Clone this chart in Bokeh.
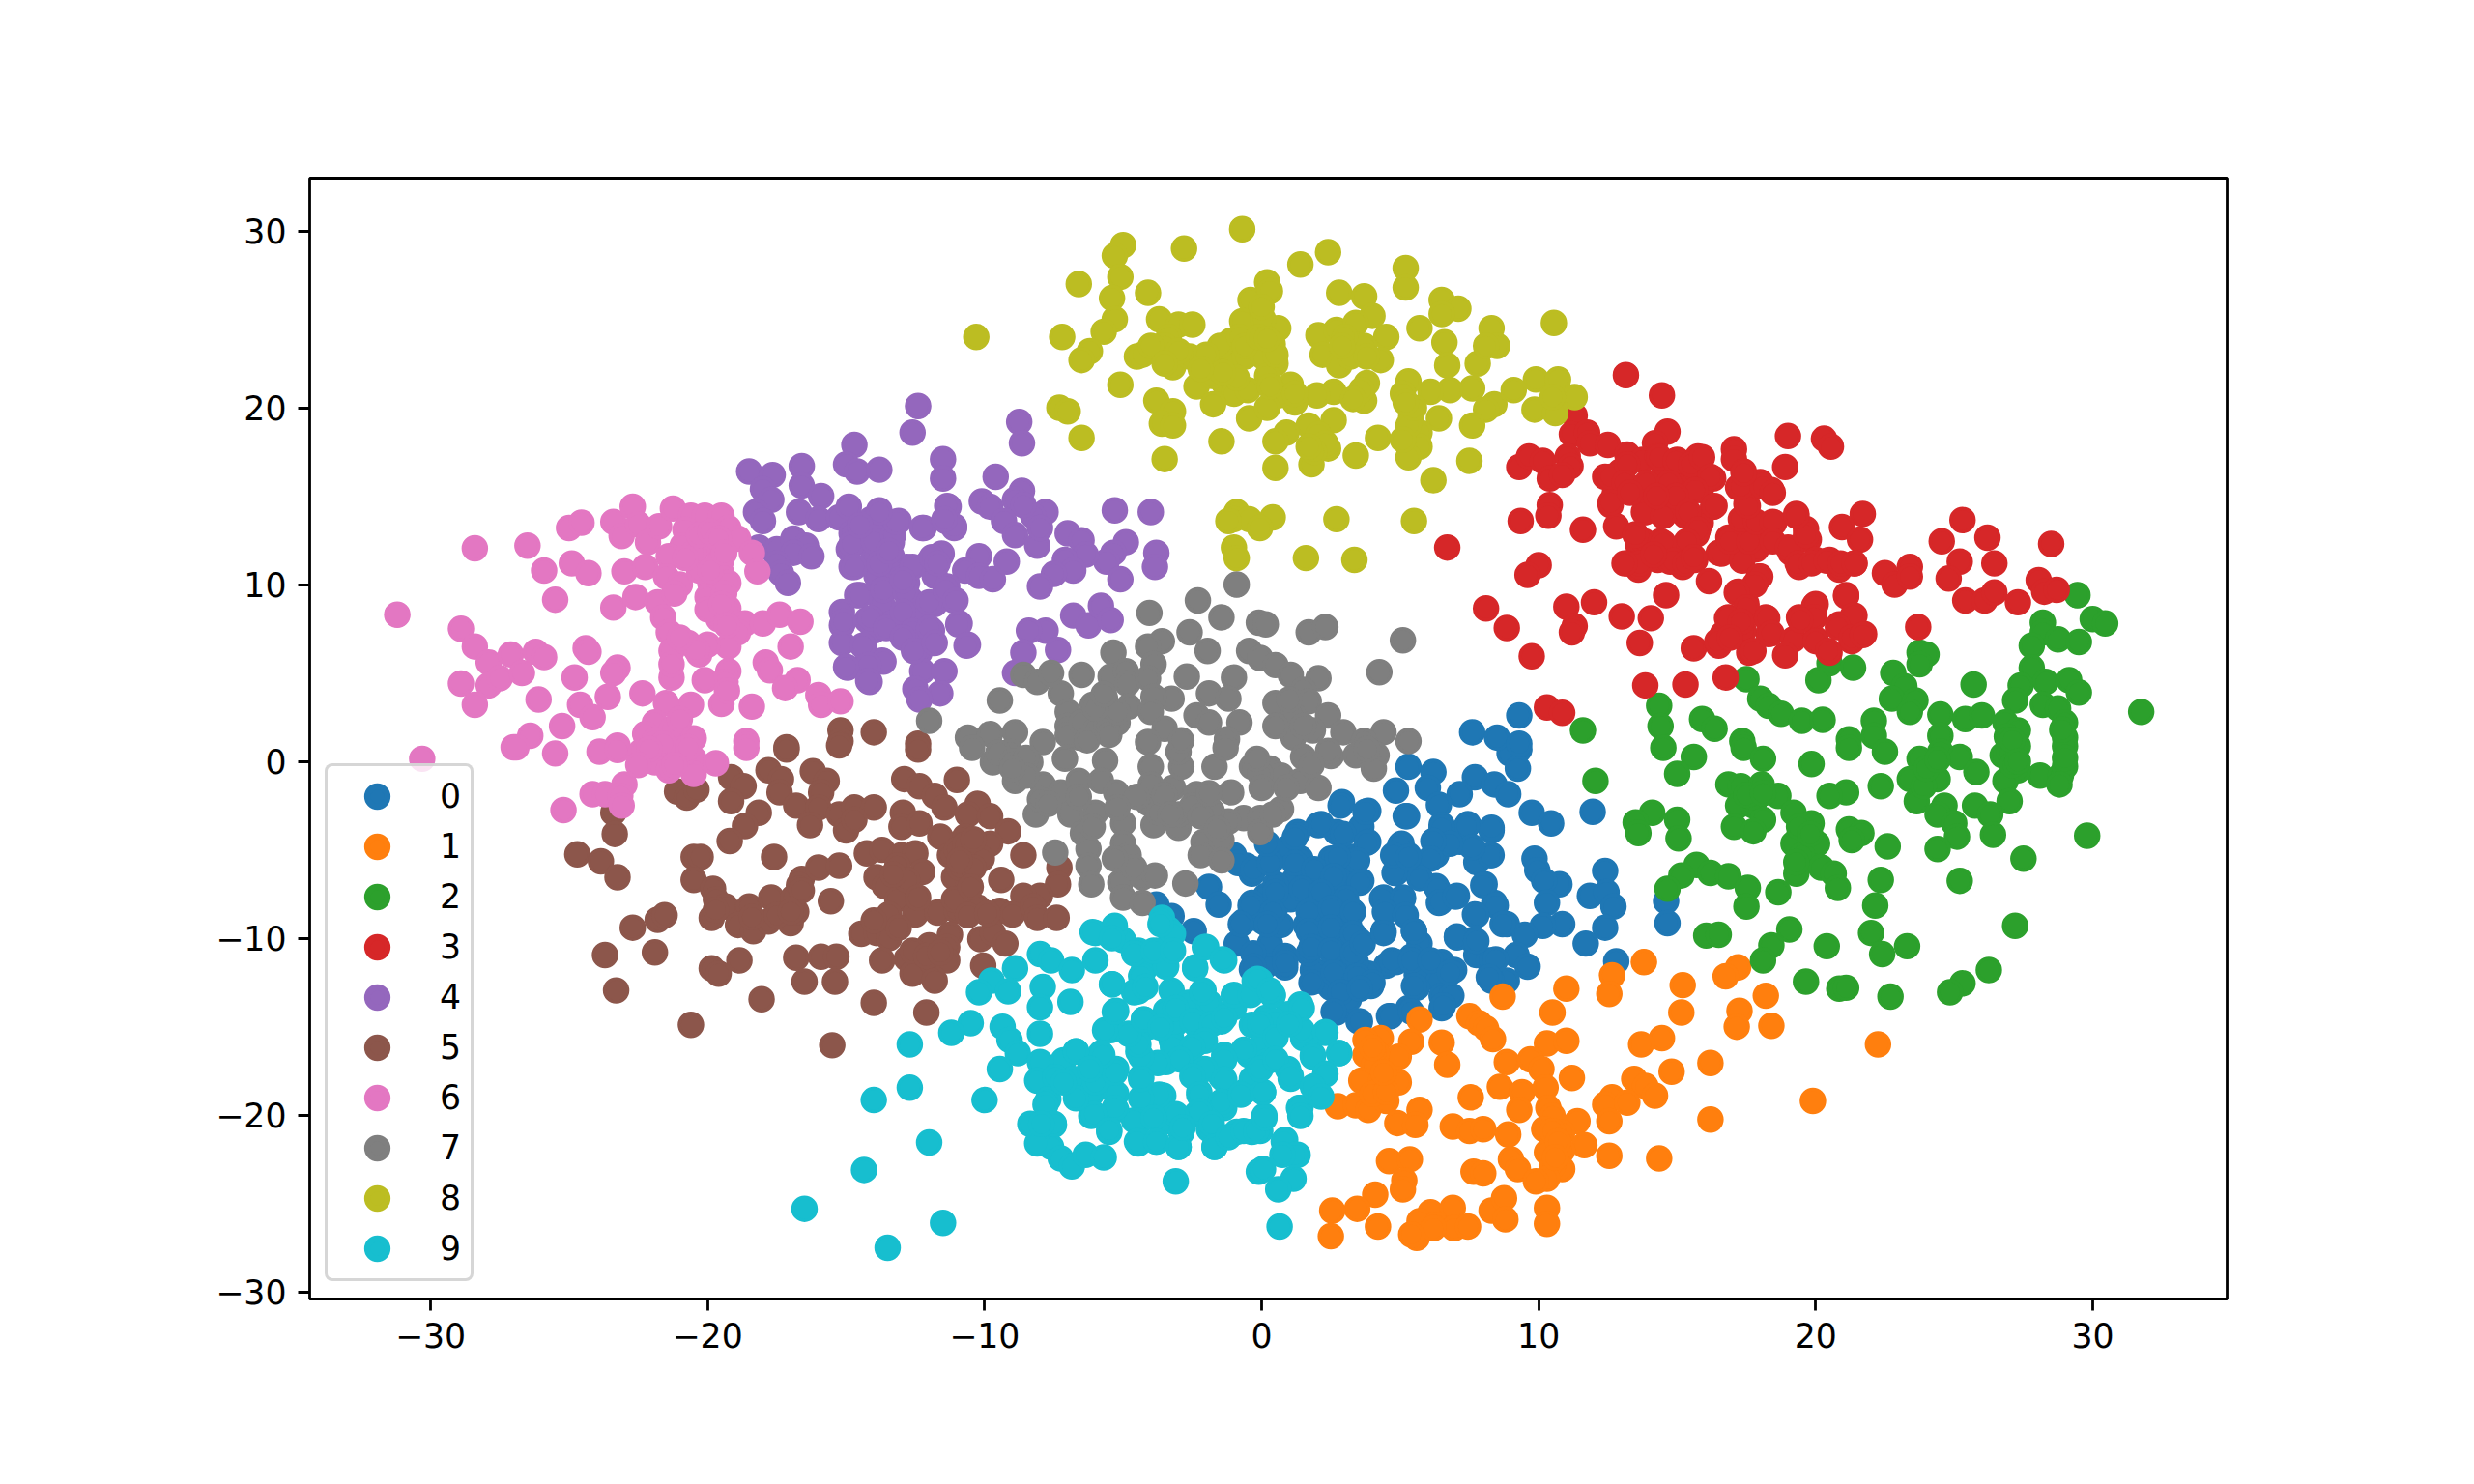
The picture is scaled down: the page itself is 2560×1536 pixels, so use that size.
from bokeh.plotting import figure
from bokeh.models import Range1d, Legend, LegendItem, FixedTicker, ColumnDataSource
from bokeh.embed import file_html
from bokeh.resources import INLINE

labels = ["0", "1", "2", "3", "4", "5", "6", "7", "8", "9"]
colors = ["#1f77b4", "#ff7f0e", "#2ca02c", "#d62728", "#9467bd", "#8c564b", "#e377c2", "#7f7f7f", "#bcbd22", "#17becf"]
x_ticks = [-30, -20, -10, 0, 10, 20, 30]
y_ticks = [-30, -20, -10, 0, 10, 20, 30]

cluster_0 = [(9.3,0.67),(8.95,0.45),(9.25,-0.4),(5.3,-0.3),(6.2,-0.6),(7.7,-0.9),(8.4,-1.3),(8.9,-1.85),(4.85,-1.65),(6.0,-1.5),(7.15,-1.85),(6.4,-2.45),(2.9,-2.3),(3.85,-2.8),(5.2,-3.1),(9.75,-2.9),(10.45,-3.5),(11.95,-2.85),(6.5,-3.6),(7.45,-3.55),(8.3,-3.9),(2.05,-3.6),(1.3,-4),(2.7,-4),(3.6,-3.7),(3.85,-4.55),(5.05,-4.65),(4.85,-5.2),(6.3,-4.55),(7.15,-4.55),(8.3,-5.3),(7.75,-5.7),(9.85,-5.5),(9.95,-6.15),(12.4,-6.2),(5.3,-5.3),(6.3,-5.3),(4.85,-6.3),(5.7,-6.55),(8.05,-6.95),(10.75,-6.95),(10.2,-6.75),(6.3,-7.05),(7.05,-7.6),(6.4,-8),(10.3,-8),(11.85,-7.6),(12.45,-7.4),(12.7,-8.2),(8.4,-8),(7.7,-8.65),(8.85,-9.2),(12.4,-9.4),(10.85,-9.2),(10.15,-9.3),(9.5,-9.8),(11.7,-10.3),(14.6,-7.9),(14.65,-9.15),(4.4,-7.7),(5.1,-7.7),(4.4,-9.6),(5.5,-9.6),(5.7,-10.3),(7.05,-9.9),(7.6,-10.1),(7.75,-10.95),(8.2,-11.25),(9.2,-10.95),(9.6,-11.6),(8.85,-12.4),(8.3,-12.4),(12.8,-11.3),(6.5,-11.35),(5.6,-12.1),(6.4,-12.4),(6.95,-11.8),(4.85,-11.35),(4.5,-11.55),(5.4,-11.05),(5.6,-12.8),(6.5,-13.25),(6.85,-13.25),(6.5,-13.95),(5.3,-13.95),(4.6,-14.4),(3.5,-14.7),(2.7,-14.2),(3.15,-13.45),(3.95,-12.7),(3.85,-12),(2.05,-12.4),(2.5,-12.8),(3.15,-12),(1.85,-11.8),(0.85,-11.65),(0.15,-11.55),(0.3,-10.3),(0.85,-11),(1.7,-10.85),(2.6,-10.95),(3.4,-11.35),(2.95,-10.1),(2.05,-10.1),(3.5,-10.1),(0.7,-9.25),(1.6,-9.25),(2.4,-9.25),(3.15,-9.25),(0.05,-9.05),(1.85,-8.45),(2.7,-8.25),(3.25,-8.45),(0.5,-8.25),(1.05,-7.8),(0.15,-7.6),(2.05,-7.4),(2.95,-7.4),(3.6,-6.75),(1.15,-6.75),(0.5,-6.95),(2.05,-6.3),(2.85,-6.45),(0.3,-5.7),(1.4,-5.5),(2.5,-5.5),(3.3,-5.4),(0.95,-4.9),(-3.8,-8.1),(-3.25,-8.75),(-2.45,-9.6),(-1.9,-7.1),(-1.55,-8.1),(-0.55,-5.9),(-0.35,-8),(-0.65,-9.05),(-0.9,-10.3),(-0.35,-11.75),(-1,-5.3),(-0.35,-6.35),(9.3,2.6),(7.6,1.65),(8.5,1.35),(9.3,1),
(1.2,-4.3),(2.15,-3.55),(2.95,-4.1),(3.8,-4.6),(3.45,-5.6),(2.75,-5.4),(1.2,-5.75),(1.9,-6.1),(2.6,-6.5),(3.55,-6.85),(0.5,-7.4),(1.45,-7.2),(2.15,-7.4),(3.05,-7.75),(-0.4,-8.15),(0.4,-8.5),(1.7,-8.5),(2.5,-8.3),(3.3,-8.5),(-0.75,-9.2),(0.2,-9.2),(1.7,-9.6),(2.5,-9.4),(3.3,-9.75),(-0.3,-10.85),(0.85,-11.4),(1.8,-10.5),(2.5,-10.7),(3.3,-10.85),(3.65,-10.3),(-0.3,-11.6),(1.8,-12.5),(2.6,-11.95),(3.45,-12.15),(4,-12.5),(2.85,-13.05),(3.55,-12.85),(2.6,-14.15),(3.55,-14.7),(4.7,-11.25),(5.4,-11.25),(6.1,-11.25),(6.8,-11.95),(5.5,-12.7),(6.55,-13.8),(4.65,-14.4),(5.4,-14.15),(-0.85,-5.75),(-0.3,-6.1),(0.3,-5.75),(0.2,-4.65),(3.75,-2.85),(2.85,-2.5),(4.35,-7.75),(5.1,-7.75),(4.45,-8.5),(5.2,-8.7),(5.5,-9.6),(4.4,-9.7),(8.3,-3.75),(7.4,-3.65),(6.5,-3.75),(5.25,-3.1),(8.25,-5.3),(7.6,-4.85),(6.8,-4.65),(6.2,-4.5),(6.1,-5.5),(5.7,-6.6),(6.35,-7.2),(6.45,-7.95),(7,-7.65),(8,-7),(8.45,-8.15),(7.75,-8.7),(8.7,-9.2),(7.05,-9.95),(7.75,-10.15),(8.45,-11.2),(8.2,-12.2),(4.8,-6.3),(5,-4.75),(4.75,-5.3),(5.3,-5.4)]

cluster_1 = [(13.8,-11.35),(12.65,-12.1),(12.55,-13.15),(11,-12.85),(15.2,-12.65),(17.2,-11.65),(16.75,-12.15),(18.2,-13.25),(8.7,-13.3),(10.5,-14.2),(15.15,-14.2),(17.25,-14.1),(17.15,-15),(18.4,-14.95),(7.5,-14.4),(7.85,-14.8),(8.1,-15.1),(8.35,-15.7),(5.7,-14.6),(5.4,-15.85),(4.3,-15.65),(3.75,-15.75),(6.5,-15.9),(6.7,-17.15),(4.95,-16.7),(4.15,-16.5),(3.75,-16.6),(4.05,-17.2),(10.3,-15.95),(11,-15.8),(14.45,-15.65),(13.7,-16),(22.25,-16),(8.85,-17),(9.7,-16.85),(10.1,-17.4),(16.2,-17.05),(14.8,-17.55),(13.45,-17.95),(13.85,-18.35),(14.2,-18.9),(11.2,-17.9),(3.6,-18.05),(4.95,-18.15),(4.3,-18.15),(8.6,-18.4),(9.4,-18.7),(10.25,-18.45),(7.55,-19),(19.9,-19.2),(12.65,-19),(12.4,-19.4),(13.2,-19.3),(2.75,-19.5),(3.4,-19.45),(3.85,-19.7),(4.5,-19.2),(9.3,-19.7),(5.7,-19.7),(10.35,-19.6),(4.9,-20.45),(5.55,-20.55),(16.2,-20.25),(12.55,-20.35),(11.4,-20.35),(10.5,-20.05),(6.9,-20.65),(7.5,-20.9),(8,-20.8),(8.9,-21.1),(10.2,-20.8),(10.85,-21),(11.65,-21.7),(10.3,-22.1),(10.85,-22),(12.55,-22.3),(14.35,-22.45),(4.6,-22.6),(5.35,-22.5),(9,-22.5),(9.25,-23.05),(7.65,-23.2),(8,-23.3),(10.85,-23.05),(10.5,-22.9),(5.15,-23.7),(5.1,-24.2),(10.3,-23.6),(9.9,-23.75),(4.1,-24.5),(3.45,-25.3),(2.55,-25.4),(2.5,-26.85),(4.2,-26.3),(6.1,-25.5),(6.9,-25.25),(5.7,-26),(6.3,-26.2),(5.6,-26.95),(6.95,-26.4),(7.45,-26.3),(8.3,-25.4),(8.75,-24.7),(8.8,-25.9),(10.3,-25.25),(10.3,-26.15),(6.2,-26.4),(5.4,-26.75),
(10.5,-20.9),(10.7,-21.5),(10.6,-22.4),(4,-18.8),(4.5,-18.7),(4,-16.2),(4.4,-17.6)]

cluster_2 = [(29.45,9.4),(30,8.05),(30.45,7.8),(28.2,7.85),(28.2,7.3),(28.75,6.9),(29.5,6.75),(27.8,6.55),(27.8,5.3),(23.75,6.15),(24,6.05),(23.75,5.5),(20.5,5.55),(21.35,5.3),(20.1,4.6),(17.5,4.65),(22.8,5),(23.2,4.25),(22.75,3.55),(25.7,4.35),(23.6,3.45),(23.4,2.8),(24.5,2.65),(25.4,2.4),(26,2.6),(27.4,4.3),(28.3,4.5),(29.15,4.6),(29.5,3.9),(27.2,3.45),(28.2,3.2),(28.75,3),(29,2.2),(31.75,2.8),(26.85,2.2),(27.3,1.75),(29,1.35),(14.35,3.15),(14.4,2),(18,3.55),(18.3,3.15),(18.75,2.7),(19.5,2.3),(20.25,2.35),(15.9,2.4),(16.35,1.85),(22.1,2.3),(11.6,1.75),(17.35,1.15),(21.2,1.25),(24.5,1.45),(22.1,1.45),(14.5,0.77),(15.6,0.25),(15,-0.7),(12.05,-1.1),(17.4,0.77),(18.1,0.15),(19.85,-0.15),(21.2,0.77),(22.5,0.55),(23.75,0.15),(24.5,0.55),(25.2,0.25),(26.75,0.35),(27.3,0.87),(29,0.87),(24.2,-0.8),(23.4,-1),(24.4,-1),(25.8,-0.6),(28.1,-0.8),(28.85,-0.8),(29,-0.28),(27.3,-0.5),(26.85,-1.1),(27,-2.25),(23.65,-2.25),(25.75,-2.5),(26.3,-3),(24.65,-2.5),(24.4,-3),(25,-3.5),(26.4,-4.15),(25.1,-4.25),(24.4,-4.95),(27.5,-5.5),(29.8,-4.2),(22.35,-1.4),(21.1,-1.75),(20.5,-1.95),(16.85,-1.3),(17.3,-1.4),(18.05,-1.3),(18.65,-1.95),(17.2,-2.5),(17.75,-2.5),(19.2,-2.9),(18.1,-3.3),(17.05,-3.7),(17.75,-3.95),(19.85,-3.5),(21.2,-3.85),(21.65,-4.05),(21.3,-4.45),(22.6,-4.8),(19.4,-4.25),(19.2,-4.65),(20.05,-4.65),(19.5,-5.3),(14.1,-2.9),(13.5,-3.45),(13.6,-4.05),(15,-3.3),(15.05,-4.35),(15.7,-5.85),(16.2,-6.3),(16.85,-6.5),(15.15,-6.45),(14.65,-7.2),(17.55,-7.15),(18.65,-7.4),(17.5,-8.2),(19.3,-6.35),(20.2,-6),(20.65,-6.35),(20.8,-7.15),(22.35,-6.7),(22.15,-8.15),(25.2,-6.75),(19.05,-9.5),(16.05,-9.85),(16.5,-9.8),(18.4,-10.4),(18.1,-11.25),(20.4,-10.45),(22,-9.7),(22.4,-10.9),(23.3,-10.45),(27.2,-9.3),(26.25,-11.8),(25.3,-12.55),(24.85,-13.05),(19.65,-12.45),(20.85,-12.85),(21.1,-12.8),(22.7,-13.3),
(27,0.5),(27.1,-0.2),(26.9,1.4),(27.1,1.2),(27.3,0),(17.7,-2),(17.5,-1.9),(19.4,-3.7),(19.8,-4.1),(19.3,-5.7),(18.1,-1.8),(23.9,-1.4),(24,-0.4),(24.4,0.1),(28.8,-1.3),(29,0.2),(28.9,1.8)]

cluster_3 = [(13.15,21.85),(14.45,20.7),(11.3,19.55),(11.2,18.5),(11.75,18.6),(11.85,18),(14.65,18.65),(14.2,18),(19,18.4),(20.3,18.25),(20.55,17.8),(17.05,17.65),(18.9,16.65),(17.05,17.1),(9.3,16.65),(9.65,17.25),(10.15,17),(11.05,17.25),(11.15,16.7),(10.4,16),(10.85,16.2),(10.4,14.5),(10.35,13.9),(9.35,13.6),(11.6,13.1),(12.5,17.9),(13.2,17.35),(12.4,16.1),(12.95,16.4),(13.2,15.6),(12.6,14.5),(12.75,15.15),(13.75,17.05),(14.3,17.25),(15,17.05),(15.75,17.25),(16.3,16),(14.5,16.2),(15.4,16.2),(14.95,15.55),(14.1,15.35),(15.85,15.35),(16.3,14.4),(13.85,14.1),(14.5,13.9),(15.3,13.9),(17.4,16.4),(18.4,15.35),(18,15.8),(17.2,15.5),(17.5,14.55),(17.4,13.7),(19.3,14),(21.7,14),(20.95,13.25),(21.6,12.55),(19.65,13.15),(19.75,12.55),(18.5,13.5),(18.2,12.65),(17.4,12.65),(16.85,12.65),(12.8,13.3),(13.5,12.85),(14.4,12.45),(13.6,12.2),(15.85,13.5),(15.7,12.85),(15.4,12),(16.5,11.8),(17.2,11.8),(17.85,12),(19.1,11.8),(19.4,11),(20,11.4),(20.5,11.4),(20.85,10.85),(21.4,11.2),(22.5,10.65),(22.85,10),(23.4,11),(23.4,10.45),(25.3,13.65),(24.55,12.45),(26.2,12.65),(28.5,12.3),(25.2,11.3),(26.45,11.2),(24.8,10.35),(25.4,9.1),(26.1,9.1),(26.45,9.55),(27.3,9),(28.05,10.25),(28.25,9.6),(28.7,9.7),(13.2,11.2),(13.6,10.85),(14.3,11.4),(15.2,11),(15.65,11.4),(14.75,11.3),(10,11.1),(9.6,10.55),(6.7,12.1),(16.15,10.2),(18,10.45),(17.2,9.6),(14.6,9.4),(17.5,8.9),(21.1,9.4),(20,8.9),(8.1,8.65),(8.85,7.55),(9.75,5.95),(11,8.75),(12,9),(11.3,7.65),(11.2,7.3),(13,8.2),(14.05,8.1),(13.65,6.7),(15.6,6.4),(16.85,8.15),(18.2,8.15),(18.3,7.2),(16.65,7.2),(16.5,6.55),(17.4,7.4),(17.6,6.15),(19.4,8.15),(19.2,6.9),(18.9,6),(20,6.9),(20.5,6.15),(20.85,7.75),(21.4,8.25),(21.75,7.2),(21.3,6.8),(23.7,7.6),(13.85,4.3),(15.3,4.35),(16.75,4.75),(10.3,3.05),(10.85,2.75),
(12.6,16.1),(13.2,16.8),(13.1,15.75),(12.6,14.65),(13.8,14.1),(14.5,13.9),(13.9,15.75),(14.35,17.2),(14.95,17),(14.7,15.75),(15.5,16.8),(15.9,17.2),(16.2,16.1),(15.65,15.35),(14.95,15),(14.25,15),(13.3,15.2),(15.4,14.1),(16.35,14.45),(15.75,13.1),(15.35,12.45),(13.8,12.45),(14.5,12.35),(13.5,12.8),(14.85,11.35),(15.3,11.2),(15.6,11.55),(13.65,11.2),(13.1,11.2),(14.15,11.7),(16.6,11.75),(17.35,11.35),(16.9,12.45),(17.6,12.45),(17.3,13.7),(17.85,13.55),(18.45,13.55),(18.45,12.45),(17.55,14.45),(17.3,15.55),(18.1,15.55),(18.45,15.2),(17.4,16.3),(19,12.1),(19.35,11.2),(19.85,11.2),(20.4,11.35),(20.9,11.2),(21.4,11.2),(19.65,12.8),(19.3,13.9),(17.95,10.45),(17.8,10),(17.15,9.55),(17.5,8.7),(16.8,8.1),(17.3,7.9),(16.45,6.8),(16.9,7),(17.75,6.25),(18.25,8.1),(18.4,7.25),(19.95,8.8),(19.95,8.15),(19.45,8),(20,6.8),(20.45,6.25),(21.1,9.35),(21.35,8.25),(20.8,7.6),(21.3,7),(21.7,7.15)]

cluster_4 = [(-12.4,20.1),(-12.6,18.6),(-8.75,19.2),(-8.65,18),(-14.7,17.9),(-15,16.8),(-14.6,16.4),(-13.8,16.5),(-11.5,17.1),(-11.5,16),(-9.6,16.1),(-8.65,15.3),(-10.1,14.7),(-9.8,14.4),(-8.9,14.8),(-7.8,14.1),(-8.25,13.9),(-8.6,14.5),(-9.3,13.6),(-8.9,12.8),(-8.1,12.2),(-8,13.2),(-11.3,14.4),(-11.4,13.6),(-11.1,13.2),(-12.2,13.2),(-5.3,14.2),(-4,14.1),(-7,12.9),(-6.5,12.5),(-4.9,12.4),(-3.8,11.8),(-3.85,11),(-5.35,11.8),(-5.6,11.3),(-5.1,10.3),(-6.35,11.7),(-7.1,11.4),(-6.8,10.8),(-7.5,10.6),(-8,9.9),(-10.2,11.6),(-10.7,10.8),(-10.2,10.5),(-9.7,10.3),(-9.2,11.3),(-11.6,11.6),(-12,11.3),(-11.8,10.5),(-12.8,11),(-11.35,9.9),(-11.1,9.1),(-11.8,8.9),(-10.9,7.8),(-10.6,6.6),(-6.8,8.25),(-6.25,7.7),(-5.8,8.8),(-5.45,8),(-7.8,7.4),(-8.4,7.4),(-8.6,6.15),(-7.35,6.3),(-8.9,5),(-18.5,16.4),(-17.65,16.2),(-18,15.4),(-17.7,14.8),(-18.25,14.1),(-18,13.6),(-16.6,16.7),(-16.6,15.6),(-15.9,15),(-16.7,14.1),(-16,13.7),(-15.25,13.8),(-14.9,14.4),(-13.8,14.2),(-13.1,13.6),(-14.1,13.7),(-14.8,12.9),(-13.9,12.9),(-13.35,12.4),(-14.9,12),(-14,11.6),(-13.35,11.6),(-14.8,11),(-13.9,10.5),(-13.1,10.5),(-14.6,9.4),(-13.7,9.7),(-12.8,10.1),(-12.7,9.2),(-13.7,8.9),(-15.15,8.45),(-15.15,7.7),(-14.25,8),(-13.35,7.8),(-12.35,8.35),(-11.9,7.4),(-11.9,6.7),(-12.8,7.1),(-14,7.4),(-15.15,6.7),(-14.35,6.5),(-14.25,5.6),(-13.7,5.7),(-14.95,5.3),(-14.15,4.5),(-12.35,6.15),(-12.25,5.1),(-11.45,5.1),(-12.5,4.1),(-11.6,3.85),(-12.35,3.5),(-18.15,12.1),(-17.5,12),(-16.9,12.6),(-16.45,12.2),(-16.9,11.8),(-16.25,11.6),(-17.5,11.2),(-17.35,10.65),(-17.1,10.1),
(-14.8,12.3),(-14,12.45),(-13.3,12.8),(-13.2,13.55),(-13.8,14.1),(-14.5,13.35),(-14.7,11),(-13.8,11.2),(-13.45,11.9),(-14.5,9.4),(-13.65,9.7),(-12.85,9.55),(-12.6,11),(-12.95,10.25),(-15.1,7.9),(-14.1,8.1),(-13.55,7.55),(-12.95,8.45),(-12,9),(-11.4,9.7),(-11.05,9.1),(-12.6,7.35),(-12,7.55),(-12.95,7),(-12.55,6.25),(-11.8,6.7),(-10.95,7.75),(-10.65,6.55),(-14.4,6.55),(-13.65,5.65),(-14.2,5.45),(-15,5.35),(-14.2,4.55),(-11.55,11.75),(-11.9,11.55),(-11.7,11.2),(-12.25,13.2),(-11.35,14.45),(-11.1,13.3),(-11.45,13.7)]

cluster_5 = [(-15.2,1.75),(-14,1.65),(-17.15,0.8),(-12.4,1),(-15.2,1.15),(-17.15,0.67),(-15.25,0.9),(-12.4,0.67),(-17.8,-0.5),(-17.35,-1),(-17.4,-1.75),(-16.2,-0.55),(-15.7,-1.1),(-15.9,-1.75),(-19.15,-0.9),(-18.7,-1.4),(-19.15,-2.25),(-21.1,-1.7),(-20.75,-2.05),(-20.4,-1.6),(-23.4,-2.9),(-23.35,-4.1),(-24.7,-5.25),(-23.85,-5.65),(-23.25,-6.55),(-18.15,-2.9),(-18.65,-3.65),(-19.2,-4.5),(-20.5,-5.4),(-20.25,-5.4),(-17.6,-5.4),(-20.5,-6.7),(-19.8,-7.2),(-19.7,-7.8),(-19.35,-8.2),(-19.85,-8.85),(-18.5,-8.2),(-18.9,-9.25),(-18.35,-9.6),(-17.8,-9.05),(-17.7,-7.7),(-17,-9.15),(-16.8,-8.5),(-16.6,-6.65),(-16,-6),(-15.25,-5.9),(-16.9,-7.7),(-16.7,-7),(-15.55,-7.9),(-16.8,-2.5),(-16,-2.6),(-16.3,-3.6),(-15.25,-3),(-15,-3.9),(-14.7,-2.6),(-14,-2.6),(-14.7,-3.3),(-12.9,-1),(-12.35,-1.4),(-11.8,-1.95),(-11.45,-2.6),(-11,-1.05),(-12.95,-2.9),(-13,-3.7),(-12.35,-3.5),(-10.25,-2.4),(-10.6,-3),(-9.8,-3.1),(-9.15,-3.95),(-11.6,-4.25),(-10.7,-4.25),(-9.8,-4.65),(-8.6,-5.3),(-11.25,-5.3),(-10.8,-5.3),(-10.1,-5.5),(-10.6,-5.9),(-11.1,-6.55),(-10.6,-6.75),(-9.4,-6.7),(-7.3,-6),(-7.35,-6.95),(-8,-7.6),(-8.6,-7.6),(-14.25,-5.2),(-13.7,-5),(-13,-5.3),(-12.5,-5.2),(-13.15,-5.9),(-12.25,-6.25),(-13.9,-6.55),(-13,-7.05),(-13.6,-7.05),(-13.15,-7.8),(-12.5,-8.65),(-11.7,-8.55),(-11,-8.45),(-10.25,-8.25),(-9.45,-8.45),(-9,-8.65),(-11.1,-7.8),(-13.45,-8.65),(-8.25,-8.2),(-8.1,-8.85),(-7.4,-8.85),(-14.45,-9.75),(-13.9,-9.7),(-13.45,-10),(-11.25,-9.8),(-12,-10.4),(-11.35,-10.5),(-10.15,-10.05),(-9.7,-9.7),(-9.25,-10.3),(-10.05,-11.55),(-12.8,-11.15),(-13.7,-11.25),(-12.6,-12),(-11.9,-11.35),(-11.8,-12.4),(-11.35,-11.25),(-16.8,-11.1),(-15.9,-11.05),(-15.35,-11.05),(-16.5,-12.45),(-15.4,-12.45),(-18.85,-11.25),(-19.85,-11.7),(-19.6,-12),(-18.05,-13.45),(-14,-13.65),(-12.1,-14.2),(-20.6,-14.9),(-15.5,-16.05),(-22.7,-9.4),(-21.8,-8.95),(-21.55,-8.7),(-23.7,-10.95),(-21.9,-10.8),(-23.3,-12.95),
(-11,-5),(-10.7,-4.7),(-10.4,-4.4),(-10.9,-6),(-10.4,-6),(-10.5,-7.1),(-10.9,-5.6),(-12.8,-6.7),(-13.3,-6.4),(-19.7,-8.4),(-18.4,-8.8),(-17.5,-8.7),(-12.4,-7.7),(-12.6,-10.7),(-13.1,-9.4),(-14,-9),(-12.1,-11),(-11.6,-10.8),(-10.6,-8.7),(-9.9,-8.6),(-16.6,-7.3),(-17,-8.5)]

cluster_6 = [(-31.2,8.3),(-28.9,7.5),(-28.4,6.5),(-27.9,5.6),(-28.9,4.4),(-27.9,4.3),(-27.5,4.7),(-28.4,3.2),(-27.1,6.05),(-26.7,5),(-26.2,6.2),(-25.9,5.9),(-26.1,3.5),(-28.4,12.05),(-26.5,12.2),(-25.9,10.8),(-24.9,11.2),(-24.3,10.65),(-25.5,9.15),(-23.4,8.7),(-22.6,9.3),(-25,13.2),(-24.55,13.5),(-23.4,13.55),(-23.1,12.75),(-22.7,14.4),(-22.5,13.4),(-22.15,12.4),(-21.75,13.3),(-21.25,14.3),(-20.6,13.9),(-20.1,13.9),(-19.5,13.9),(-20.8,13.1),(-19.25,13.2),(-18.9,12.6),(-20.9,12.2),(-20.15,12.2),(-20.5,11.8),(-21.4,11.6),(-18.4,11.8),(-19.5,11.4),(-18.2,10.75),(-23,10.75),(-22.25,11),(-21.5,10.45),(-21,10),(-19.5,10.65),(-19.9,10.1),(-19.25,10.1),(-20,9.3),(-19.4,9.5),(-21.8,9),(-21.6,8.15),(-21.4,7.3),(-19.25,8.65),(-19.6,8.05),(-18.65,7.8),(-18,7.8),(-17.4,8.3),(-16.65,7.9),(-18.9,7.3),(-19.25,6.5),(-20.7,6.7),(-20,6.6),(-21.3,6.25),(-20.3,6.05),(-17,6.5),(-24.4,6.4),(-24.3,6.2),(-17.9,5.6),(-17.75,5.15),(-19.25,5.1),(-19.35,4.5),(-20.1,4.6),(-21.3,4.75),(-23.25,5.3),(-23.4,5),(-24.8,4.75),(-16.75,4.6),(-17.2,4.15),(-16,3.75),(-15.9,3.2),(-15.2,3.4),(-22.35,3.85),(-23.6,3.65),(-24.6,3.2),(-24.15,2.5),(-20.6,3.2),(-21.5,3.3),(-19.5,3.25),(-18.4,3.1),(-21.9,2.2),(-25.25,2),(-21.3,1.8),(-22.25,1.55),(-26.4,1.45),(-23.25,0.9),(-18.6,1.15),(-27,0.8),(-30.3,0.15),(-26.9,0.8),(-25.5,0.45),(-23.9,0.55),(-23.25,0.65),(-22.4,0.55),(-21.7,0.55),(-21.9,-0.05),(-21.4,-0.5),(-20.5,0.15),(-20.5,-0.7),(-19.7,-0.1),(-18.6,0.77),(-23,-1.3),(-24.15,-1.85),(-23.7,-1.85),(-23.15,-1.95),(-23.1,-2.5),(-25.2,-2.75),(-20.8,0.55),
(-20.3,10.8),(-19.9,10.8),(-20.3,12.8),(-19.9,13),(-19.6,12.6),(-19.4,11.8),(-20.8,11.5),(-20,8.6),(-19.5,8.9),(-19.3,7.7),(-21.3,5.5),(-19.3,4),(-21.9,1.2),(-21.6,1),(-21,2.4),(-22.1,0.7),(-20.5,1.3),(-20.7,0.8),(-21.2,-0.2),(-22.5,-0.2),(-21.2,9.5),(-20.4,6.3),(-21,7)]

cluster_7 = [(-0.9,10),(-2.3,9.1),(-4.05,8.4),(-1.45,8.15),(-0.1,7.85),(-2.6,7.3),(-3.6,6.8),(-4.1,6.5),(-1.95,6.25),(-0.45,6.25),(-5.35,6.15),(-3.9,5.5),(-8.6,4.9),(-8.1,4.5),(-7.6,5),(-6.5,4.9),(-5.45,4.8),(-4.9,5.1),(-4.85,4.4),(-4.1,4.7),(-2.7,4.8),(-1,4.75),(-7.25,3.85),(-9.45,3.45),(-12,2.3),(-3.25,3.55),(-3.9,3.65),(-1.9,3.85),(-1.2,3.55),(-5.65,3.55),(-4.8,3.1),(-7,2.8),(-6.1,3.2),(-5.6,2.8),(-4,2.8),(-2.35,2.6),(-7,2),(-6.1,2.4),(-5.2,2.2),(-3.5,1.85),(-1.9,2.2),(-0.8,2.2),(-10.6,1.35),(-9.8,1.55),(-8.9,1.65),(-7.9,1.1),(-6.6,1.35),(-4.1,1.1),(-1.25,1.25),(0.15,7.75),(1.7,7.3),(2.3,7.6),(5.1,6.85),(4.25,5.05),(-0.05,5.85),(0.5,5.45),(1.05,4.9),(2.05,4.7),(1.5,4.05),(0.5,3.3),(1.7,3.4),(2.4,2.6),(1.15,2.6),(2.95,1.65),(4.4,1.65),(5.3,1.15),(1.85,1.75),(1.15,1.35),(3.7,1.15),(-10.45,0.77),(-9.7,-0.05),(-8.9,-1.1),(-7.9,-1.3),(-8.35,-0.05),(-9.1,0.55),(-7.1,0.15),(-8.15,-3),(-8,-2.15),(-7.25,-1.75),(-6.6,-1.1),(-5.65,0.05),(-5.8,-1.1),(-5.25,-1.75),(-6,-2.9),(-6.9,-3),(-6.45,-4.05),(-5,-3.5),(-5,-4.65),(-6.25,-4.95),(-4.8,-5.3),(-6.25,-5.9),(-6.15,-6.95),(-7.45,-5.15),(-5.1,-6.85),(-5,-7.7),(-4.3,-8),(-4.3,-6.55),(-3.85,-6.45),(-2.75,-6.9),(-4,-0.3),(-4.1,-2.35),(-3.9,-3.6),(-3,-3.75),(-2.1,-4.55),(-1.45,-4.45),(-3.2,-1.5),(-2.35,-1.85),(-2.9,-0.3),(-1.7,-0.3),(-1.1,-1.75),(-1.3,0.77),(-2.2,-5.3),(-1.45,-5.6),(-3,0.55),(-3.7,-2.9),(-0.35,-0.3),(-0.65,-3.2),(-1.2,-3.4),(1.5,0.25),(2.5,0.3),(3.4,0.35),(4.15,0.35),(4.05,-0.4),(0.3,-0.4),(0.7,-0.8),(1.4,-1.1),(2.05,-1.5),(0.7,-2.7),(-0.05,-3.2),(-0.05,-4),(-0.05,-0.7),(-0.17,0.15),
(-7,1.5),(-6.5,2.2),(-6,1.8),(-5.6,2),(-5.5,1.5),(-5.2,2.8),(-6,3),(-6.3,1.2),(-5.7,3.8),(-9.5,0.5),(-9,0),(-8.5,0.2),(-8.5,-0.8),(-9,-0.4),(-7.7,-2.4),(-4,-1.3),(-4.5,-2),(-3.5,-1.9),(-3,-3),(-2.5,-2.5),(-6.6,-2),(-6.1,-3.7),(-5.2,-2.6),(-4.6,-6),(-1.8,-2.8),(-2.2,-3.1),(-5.3,-5.5),(1,3.5),(0.5,2),(1.5,2),(0,-1.5),(0.9,-1.5),(0.4,-3),(2.4,0.6),(3.8,0.7),(1.8,-0.2),(-1.9,-1.8),(-1.6,-3.8),(-3.3,-3),(-2.9,1.2)]

cluster_8 = [(-0.7,30.1),(-5,29.2),(-5.3,28.6),(-2.8,29),(-5.1,27.4),(-6.6,27),(-4.1,26.5),(-5.4,26.2),(-5.3,25),(-5.7,24.3),(-10.3,24),(-7.2,24),(-6.2,23.2),(-6.5,22.7),(-4.5,22.9),(-4.3,23),(-5.1,21.3),(-3.7,25),(-3,24.7),(-2.5,24.7),(-3.35,24),(-3.2,22.3),(-2.6,22.9),(-2.35,21.2),(-1.7,22.7),(-1.1,23.8),(-0.7,24.9),(-0.4,26.1),(-1,22.5),(-1.35,21.4),(-0.6,22.9),(-1,20.8),(-1.75,20.2),(-0.45,19.4),(-7.3,20),(-7,19.8),(-6.5,18.3),(-3.8,20.4),(-3.2,19.8),(-3.6,19.1),(-3.2,19),(-1.45,18.1),(-3.5,17.1),(-0.9,14.1),(-1,13.7),(-1,12.1),(-0.9,11.5),(-0.45,13.7),(-1.2,13.6),(2.4,28.8),(1.4,28.1),(5.2,27.9),(5.2,26.8),(2.8,26.5),(0.2,27.1),(0.3,26.6),(3.7,26.3),(6.5,26.1),(7.1,25.6),(6.5,25.3),(4,25.2),(10.55,24.8),(8.3,24.5),(8.5,23.5),(5.7,24.5),(4.5,24),(6.6,23.7),(0.6,24.5),(0.05,25),(2.05,24.1),(2.7,24.4),(3.4,24.8),(3.2,23.7),(3.7,23.5),(2.2,23),(2.8,22.4),(4.3,22.7),(6.7,22.4),(7.8,22.5),(8.1,23.5),(0.5,22.5),(0.05,22.9),(0.2,21.8),(9.9,21.6),(10.7,21.6),(11.3,20.6),(9.1,21),(7.6,21.1),(6.8,21),(6.1,20.9),(5.3,21.5),(5.1,20.8),(3.7,20.4),(3.8,21.4),(2.6,20.9),(2,20.7),(1.2,20.3),(1.05,21.3),(0.6,20.7),(0.2,20),(8.4,20.2),(8.1,19.9),(9.85,19.9),(10.6,19.7),(10.5,20.6),(7.6,19),(6.4,19.4),(5.4,19.5),(5.7,18.6),(5.7,17.8),(5.3,17.2),(4.2,18.3),(2.6,19.3),(1.7,19),(0.9,18.6),(0.5,18.1),(2.05,18.5),(2.4,17.7),(1.8,16.8),(3.4,17.3),(0.5,16.6),(7.5,17),(6.2,15.9),(5.5,13.6),(2.7,13.7),(0.4,13.8),(-0.06,13.2),(1.6,11.5),(3.35,11.4),
(-1.5,23.5),(-2,23),(-0.8,24),(-1.8,21.8),(-0.5,21),(-0.6,23.5),(0.4,23.6),(0.5,23),(0.3,21.2),(-3.5,23.5),(-3,23.2),(-4,23.5),(-3.5,22.5),(3,24),(3.2,22.9),(2.9,23.5),(3.8,22.9),(1.2,20.8),(2.3,18),(1.9,17.5),(5.3,19),(5.1,18.2),(1.7,17.8),(3.6,21),(3.3,20.5),(-0.9,21.7),(-0.1,24),(0,25.7),(0.2,23.9),(5.5,20),(5.2,20.3),(-1.4,22),(-2.2,22.2)]

cluster_9 = [(-6,-9.7),(-5.3,-9.3),(-3.6,-8.85),(-3.35,-9.5),(-5,-10.1),(-4.45,-10.7),(-3.7,-10.7),(-3.45,-11.55),(-4.25,-11.8),(-2.4,-11.7),(-2,-10.5),(-1.35,-11.25),(-8,-10.9),(-7.6,-11.25),(-6.85,-11.8),(-6,-11.25),(-8.9,-11.7),(-9.75,-12.4),(-9.15,-13),(-10.2,-13.05),(-7.9,-12.75),(-5.4,-12.6),(-4.45,-13),(-8,-13.9),(-6.9,-13.6),(-5.25,-14.1),(-3.25,-12.95),(-2.1,-12.95),(-1,-13.25),(-0.25,-12.4),(-10.5,-14.8),(-11.2,-15.35),(-9.35,-15),(-8,-15.4),(-4.25,-14.6),(-5.45,-15.2),(-9.1,-15.75),(-8.8,-16.5),(-12.7,-16),(-9.45,-17.4),(-8,-17),(-7.15,-16.9),(-6.7,-16.4),(-5.8,-16.5),(-8.1,-18.05),(-6.15,-17.4),(-5.25,-17.4),(-6.8,-17.95),(-7.45,-17.85),(-12.7,-18.45),(-14,-19.15),(-10,-19.15),(-7.7,-19.1),(-6.15,-18.8),(-5.25,-18.8),(-6.15,-20.05),(-5.25,-19.7),(-5.5,-20.95),(-8.35,-20.5),(-7.5,-20.55),(-8,-21.5),(-12,-21.55),(-7.6,-21.8),(-7.25,-22.45),(-6.85,-22.9),(-6.35,-22.25),(-5.7,-22.4),(-14.35,-23.1),(-3.1,-23.75),(-16.5,-25.3),(-11.5,-26.1),(-13.5,-27.5),(-4.45,-21.6),(-3.8,-21.5),(-3,-21.8),(-4.45,-20.45),(-3.45,-20.35),(-2.9,-21),(-1.7,-21.8),(-1.9,-20.8),(-0.9,-20.95),(-0.35,-20.95),(-1.35,-19.6),(-2.35,-19.95),(-3.55,-18.9),(-4.25,-19.1),(-4.35,-17.85),(-0.65,-18.7),(-2.25,-18.7),(-1.45,-17.85),(-0.35,-17.95),(-3.45,-17),(-2.55,-17.2),(-4.45,-16.4),(-3.25,-15.75),(-2.35,-15.95),(-1.35,-16.6),(-0.45,-16.6),(-1.45,-14.7),(-2.35,-14.9),(-3.15,-14.9),(-4.05,-15),(-0.35,-14.9),(-2.65,-13.65),(-1.9,-13.65),(-1,-13.9),(-3.45,-14.1),(-0.1,-23.2),(-0.05,-12.4),(0.4,-13.25),(1.4,-13.75),(0.15,-14.5),(0.95,-14.3),(2.3,-15.35),(1.5,-15.65),(2.8,-16.5),(1.85,-16.6),(0.05,-15.95),(0.15,-17),(0.95,-17.4),(2.3,-17.65),(1.05,-17.95),(1.95,-18.35),(2.1,-18.9),(0.05,-18.7),(1.4,-19.6),(0.1,-20.05),(-0.05,-20.9),(0.85,-21.4),(1.3,-22.25),(0.85,-22.15),(0.05,-23.05),(1.15,-23.6),(0.6,-24.2),(0.65,-26.3),
(-3.1,-13.95),(-2.15,-13.05),(-2.5,-14.7),(-1.8,-14.85),(-1.35,-14.5),(-1,-13.2),(-0.4,-13.2),(0.4,-13.2),(0.5,-14.7),(-0.05,-14.85),(0.5,-15.6),(-0.64,-16.3),(-1.35,-16.85),(-2.05,-15.8),(-3.2,-16.15),(-2.5,-16.15),(-2.95,-16.85),(-3.75,-17.05),(-4.35,-16.7),(-4.45,-16),(-4.8,-15.4),(-5.65,-15.2),(-5.3,-14.15),(-4.25,-14.6),(-3.65,-15.05),(-2.05,-17.4),(-2.5,-17.8),(-1.35,-18),(-1.45,-19.25),(-0.75,-18.85),(0.05,-18.7),(-0.05,-17.4),(0.5,-16.85),(1.05,-17.8),(-2.25,-18.85),(-2.25,-19.8),(-3.1,-19.95),(-3.7,-18.85),(-4.35,-19.05),(-4.35,-17.95),(-4.6,-20.3),(-3.9,-20.15),(-5.3,-19.6),(-6.05,-19.95),(-5.5,-20.85),(-6.7,-19.05),(-7.15,-18.15),(-6,-18.15),(-5.3,-17.6),(-6.7,-16.4),(-5.75,-16.6),(-6.2,-17.4),(-7.8,-19.4),(-7.5,-20.5),(-8.1,-21.6),(-7.95,-20.5),(-4.5,-21.5),(-3.8,-21.5),(-3,-21.8),(-2.85,-20.7),(-1.8,-20.5),(-1.7,-21.8),(-1.2,-21.25),(-0.65,-20.9),(-0.2,-20.9),(0.1,-20.15),(1.35,-19.6),(1.4,-20.05),(0.8,-21.5),(1.2,-22.25),(0.75,-22.25),(-3.45,-11.6),(-3.2,-9.75),(-3.65,-9.2),(-4.35,-12.15),(-4.6,-13.05),(-4.2,-12.75),(-4.6,-10.85),(-3.9,-10.7),(-3.2,-10.7),(-5.3,-9.4),(-6.1,-9.65),(-5.4,-10),(-2.4,-11.65),(-2.05,-10.5),(-1.4,-11.2),(-5.4,-12.6),(1.45,-15.2),(1.85,-16.7),(2.3,-15.3),(2.8,-16.5),(2.3,-17.7),(1.85,-18.4),(2.15,-18.95),(1.45,-13.95),(1,-14.85),(-0.15,-12.3),(0.3,-12.95)]

clusters = [cluster_0, cluster_1, cluster_2, cluster_3, cluster_4, cluster_5, cluster_6, cluster_7, cluster_8, cluster_9]

p = figure(width=2552, height=1528, output_backend="svg", toolbar_location=None,
           x_range=Range1d(-34.36, 34.85), y_range=Range1d(-30.4, 32.98),
           min_border_left=320, min_border_right=248, min_border_top=184, min_border_bottom=184)
p.grid.visible = False
p.background_fill_color = "white"
p.border_fill_color = "white"
p.outline_line_color = "black"
p.outline_line_width = 2.8
p.outline_line_alpha = 1

for ax, ticks in ((p.xaxis[0], x_ticks), (p.yaxis[0], y_ticks)):
    ax.ticker = FixedTicker(ticks=ticks)
    ax.major_label_overrides = {t: str(t).replace("-", "\u2212") for t in ticks}
    ax.major_label_text_font = "DejaVu Sans"
    ax.major_label_text_font_size = "34.7px"
    ax.major_label_text_color = "black"
    ax.major_label_standoff = 12
    ax.major_tick_in = 0
    ax.major_tick_out = 12
    ax.major_tick_line_width = 2.8
    ax.major_tick_line_color = "black"
    ax.minor_tick_line_color = None
    ax.axis_line_color = None

items = []
for name, color, pts in zip(labels, colors, clusters):
    # key renderer: the cluster's first point, drawn first at a smaller size so the real
    # marker covers it; its heavier outline sets the legend key to the plotted marker size
    key_src = ColumnDataSource(data={"x": [pts[0][0]], "y": [pts[0][1]]})
    key = p.scatter("x", "y", source=key_src, size=20, marker="circle", fill_color=color,
                    line_color=color, line_width=6.5)
    src = ColumnDataSource(data={"x": [a for a, b in pts], "y": [b for a, b in pts]})
    p.scatter("x", "y", source=src, size=24, marker="circle", fill_color=color,
              line_color=color, line_width=3.47)
    items.append(LegendItem(label=name, renderers=[key]))

legend = Legend(items=items, location=(16, 18), glyph_width=92, glyph_height=52, spacing=0,
                padding=5, margin=0, label_standoff=19, label_width=27, label_height=52,
                label_text_font="DejaVu Sans", label_text_font_size="34.7px", label_text_color="black",
                border_line_color="#cccccc", border_line_alpha=0.8, border_line_width=3.47,
                background_fill_color="white", background_fill_alpha=0.8)
if "border_radius" in Legend.properties():
    legend.border_radius = 8
p.add_layout(legend, "center")

open("out.html", "w").write(file_html(p, INLINE))
